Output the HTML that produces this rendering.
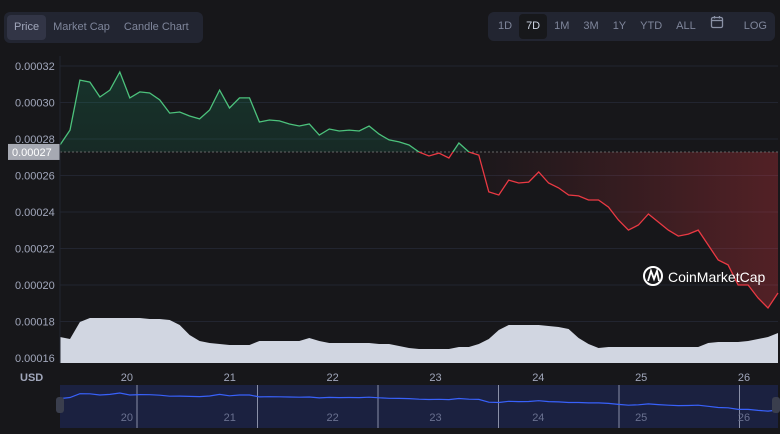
<!DOCTYPE html>
<html><head><meta charset="utf-8"><style>
body{margin:0;background:#17171a;width:780px;height:434px;overflow:hidden;font-family:"Liberation Sans",sans-serif}
.grp{position:absolute;background:#222531;border-radius:6px;display:flex;align-items:center}
.btn{color:#7f869b;font-size:11px;padding:0 7px;height:25px;line-height:25px;border-radius:4px}
.act{background:#323546;color:#a1a7bb}
.act2{background:#17181b;color:#cfd6e4}
</style></head><body>
<div class="grp" style="left:4px;top:12px;width:199px;height:31px;padding-left:3px;box-sizing:border-box">
<span class="btn act">Price</span>
<span class="btn">Market Cap</span>
<span class="btn">Candle Chart</span>
</div>
<div class="grp" style="left:488px;top:12px;width:287px;height:29px;padding-left:3px;box-sizing:border-box">
<span class="btn">1D</span>
<span class="btn act2">7D</span>
<span class="btn">1M</span>
<span class="btn">3M</span>
<span class="btn">1Y</span>
<span class="btn">YTD</span>
<span class="btn">ALL</span>
<span class="btn"><svg width="14" height="14" viewBox="0 0 14 14"><rect x="1.5" y="2.5" width="11" height="10" rx="1.5" fill="none" stroke="#8a91a5" stroke-width="1.3"/><line x1="1.5" y1="5.5" x2="12.5" y2="5.5" stroke="#8a91a5" stroke-width="1.3"/><line x1="4.5" y1="1" x2="4.5" y2="3.5" stroke="#8a91a5" stroke-width="1.3"/><line x1="9.5" y1="1" x2="9.5" y2="3.5" stroke="#8a91a5" stroke-width="1.3"/></svg></span>
<span class="btn" style="margin-left:6px">LOG</span>
</div>
<svg id="c" width="780" height="434" style="position:absolute;left:0;top:0"></svg>
<script>
const days=[20,21,22,23,24,25,26];
const yTicks=[16,18,20,22,24,26,28,30,32];
const prices=[27.67,28.49,31.23,31.12,30.30,30.68,31.67,30.25,30.58,30.52,30.14,29.42,29.48,29.26,29.10,29.59,30.68,29.70,30.25,30.25,28.93,29.04,28.99,28.82,28.71,28.82,28.22,28.55,28.44,28.49,28.44,28.71,28.27,27.95,27.84,27.67,27.29,27.07,27.23,26.96,27.78,27.29,27.12,25.10,24.93,25.75,25.59,25.64,26.19,25.59,25.32,24.93,24.88,24.66,24.66,24.27,23.56,23.01,23.29,23.89,23.45,23.01,22.68,22.79,23.01,22.19,21.37,21.10,20.00,20.00,19.29,18.74,19.56];
const volumes=[26,24,41,45,45,45,45,45,45,44,44,43,38,28,22,20,19,18,18,18,22,22,22,22,22,25,22,20,20,20,20,20,19,19,17,15,14,14,14,14,16,16,19,24,33,38,38,38,38,37,36,34,25,19,15,16,16,16,16,16,16,16,16,16,16,20,21,21,21,22,24,26,30];
const basePrice=27.29;
const startDay=19.35, endDay=26.33;
const NS="http://www.w3.org/2000/svg",svg=document.getElementById('c');
const X=d=>60+(d-startDay)/(endDay-startDay)*718;
const Y=v=>66+(32-v)*18.25;
const dayAt=i=>startDay+i*(endDay-startDay)/(prices.length-1);
const VY=v=>363-v;
function mk(t,a,p){const e=document.createElementNS(NS,t);for(const k in a)e.setAttribute(k,a[k]);(p||svg).appendChild(e);return e;}
const defs=mk('defs',{});
defs.innerHTML='<linearGradient id="gg" x1="0" y1="0" x2="0" y2="1"><stop offset="0" stop-color="#16c784" stop-opacity="0.16"/><stop offset="1" stop-color="#16c784" stop-opacity="0.01"/></linearGradient><linearGradient id="rg" x1="0" y1="0" x2="1" y2="0"><stop offset="0.55" stop-color="#ea3943" stop-opacity="0"/><stop offset="1" stop-color="#ea3943" stop-opacity="0.28"/></linearGradient><clipPath id="ca"><rect x="0" y="0" width="780" height="'+Y(basePrice)+'"/></clipPath><clipPath id="cb"><rect x="0" y="'+Y(basePrice)+'" width="780" height="400"/></clipPath>';
yTicks.forEach(v=>{const g=mk('line',{x1:60,x2:778,y1:Y(v),y2:Y(v),stroke:'#222530','stroke-width':1});

const t=mk('text',{x:15,y:Y(v)+4,fill:'#a1a7bb','font-size':11});t.textContent='0.000'+v;
});
let vp='M60,363';volumes.forEach((v,i)=>{vp+=' L'+X(dayAt(i)).toFixed(1)+','+VY(v);});vp+=' L778,363 Z';
const va=mk('path',{d:vp,fill:'#d1d6e1'});

const pts=prices.map((v,i)=>[X(dayAt(i)),Y(v)]);
const line='M'+pts.map(p=>p[0].toFixed(1)+','+p[1].toFixed(1)).join(' L');
const area=line+' L'+pts[pts.length-1][0]+','+Y(basePrice)+' L'+pts[0][0]+','+Y(basePrice)+' Z';
const fa=mk('path',{d:area,fill:'url(#gg)','clip-path':'url(#ca)'});

const fb=mk('path',{d:area,fill:'url(#rg)','clip-path':'url(#cb)'});

const bl=mk('line',{x1:60,x2:778,y1:Y(basePrice),y2:Y(basePrice),stroke:'#666','stroke-dasharray':'2,2','stroke-width':1});

const la=mk('path',{d:line,fill:'none',stroke:'#4cc27c','stroke-width':1.3,'clip-path':'url(#ca)'});

const lb=mk('path',{d:line,fill:'none',stroke:'#ea3943','stroke-width':1.3,'clip-path':'url(#cb)'});

const bx=mk('rect',{x:8,y:Y(basePrice)-8,width:52,height:16,fill:'#a6a9b2'});

const bt=mk('text',{x:12,y:Y(basePrice)+4,fill:'#fff','font-size':11});bt.textContent='0.00027';

mk('line',{x1:60,x2:60,y1:56,y2:363,stroke:'#222530'});
const wm=mk('g',{});
mk('circle',{cx:653,cy:276,r:9,fill:'none',stroke:'#fff','stroke-width':2},wm);
mk('path',{d:'M648,281 L651,271 L654,279 L657,271 L659,281',fill:'none',stroke:'#fff','stroke-width':1.8},wm);
const wt=mk('text',{x:668,y:282,fill:'#fff','font-size':14},wm);wt.textContent='CoinMarketCap';
const u=mk('text',{x:20,y:381,fill:'#a1a7bb','font-size':11,'font-weight':'bold'});u.textContent='USD';

days.forEach(d=>{const t=mk('text',{x:X(d),y:381,fill:'#a1a7bb','font-size':11,'text-anchor':'middle'});t.textContent=d;
});
const nv=mk('rect',{x:60,y:385,width:718,height:43,fill:'#1b2140'});

days.forEach((d,i)=>{const sx=137+i*120.5;mk('line',{x1:sx,x2:sx,y1:385,y2:428,stroke:'#8a90a8','stroke-width':1});
const t=mk('text',{x:X(d),y:421,fill:'#6a7190','font-size':11,'text-anchor':'middle'});t.textContent=d;
});
const NY=v=>393+(31.7-v)*1.4;
const nl='M'+prices.map((v,i)=>X(dayAt(i)).toFixed(1)+','+NY(v).toFixed(1)).join(' L');
const nline=mk('path',{d:nl,fill:'none',stroke:'#3861fb','stroke-width':1.2});

[56,772].forEach(x=>{const h=mk('rect',{x:x,y:397,width:8,height:16,rx:3,fill:'#3a3e4d'});
});
</script>
</body></html>
